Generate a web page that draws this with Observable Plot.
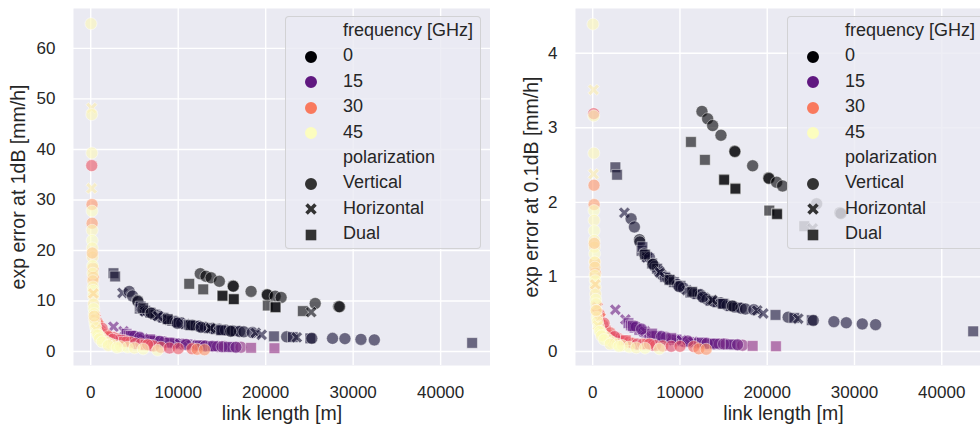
<!DOCTYPE html>
<html>
<head>
<meta charset="utf-8">
<script src="https://cdn.jsdelivr.net/npm/d3@7"></script>
<script src="https://cdn.jsdelivr.net/npm/@observablehq/plot@0.6"></script>
<style>
  html, body { margin: 0; padding: 0; background: #ffffff; }
  #wrap { position: relative; width: 980px; height: 425px; overflow: hidden; font-family: "Liberation Sans", Arial, sans-serif; color: #262626; }
  .panel { position: absolute; top: 0; }
  .legend { position: absolute; top: 16px; width: 196px; height: 233px; box-sizing: border-box;
            background: rgba(234,234,242,0.8); border: 1px solid rgba(204,204,204,0.8); border-radius: 4px;
            font-size: 18px; padding-top: 1px; }
  .legend .row { height: 25.4px; line-height: 25.4px; position: relative; white-space: nowrap; }
  .legend .row svg { position: absolute; left: 18px; top: 6.7px; }
  .legend .row span { position: absolute; left: 57px; }
</style>
</head>
<body>
<div id="wrap"></div>
<script>
// ---- data ----
// link length [m]
const linkLength = [
  // frequency ~0 GHz
  12520,13170,13750,14700,16270,16300,18330,20160,20200,21080,21760,25660,28330,28450,
  11260,12860,15040,15070,16340,16360,20240,21110,21130,24250,25200,
  // two isolated dual links
  2600,2790,
  // low-frequency curve
  3630,4400,4780,5360,5400,5600,5700,5900,6200,6230,6500,6810,7100,7380,7600,7950,8300,8600,8910,
  9300,9700,10060,10400,10800,11200,11600,12000,12350,12800,13100,13500,13900,14300,14700,15030,
  15400,15800,16200,16560,17000,17500,18460,18850,19540,20950,22400,23100,23550,25100,25270,
  27640,29060,30890,32420,43600,
  6000,6900,7700,8800,9900,11400,12600,13700,14900,16000,
  // ~15-20 GHz curve
  2600,3750,4100,4390,4800,5340,5800,6490,7000,7640,8200,8780,9300,9930,10500,11070,11600,12220,
  12800,13360,13900,14510,15270,16230,17180,18330,21000,
  5000,6000,7300,8400,9600,11500,4600,5600,6800,7900,9000,10200,10900,12500,13100,14000,15000,15800,16600,
  // ~26-34 GHz
  115,150,160,250,300,490,
  570,760,1150,1500,1910,2300,2670,3000,3440,4130,4580,5090,5730,6240,6870,7190,8020,9000,10000,
  11580,12160,13000,
  900,1300,2000,2500,3800,6500,
  // ~40-45 GHz
  30,100,120,130,100,150,160,170,180,200,220,230,250,260,280,300,320,350,380,420,480,560,700,900,
  1150,1500,1900,2290,2800,3400,4200,5000,6000,7640,
  180,300,400,600,800,1000,1300,2000,3000
];
// frequency [GHz]
const frequency = [
  0,0,0,0,0,0,0,0,0,0,0,0,0,0,
  0,0,0,0,0,0,0,0,0,0,1,
  4,4,
  5,4,4,2,3,4,5,4,5,4,5,4,5,4,5,4,5,4,5,
  4,5,4,5,4,5,4,5,4,5,4,5,4,5,4,5,
  4,5,4,5,4,4,5,4,5,5,4,5,4,5,4,
  5,5,5,5,5,
  3,3,4,3,4,3,4,3,4,3,
  16,16,15,16,15,16,15,16,15,16,15,16,16,15,16,15,16,15,
  16,15,16,17,17,16,19,19,19,
  15,16,15,16,15,16,15,15,16,15,16,15,16,15,16,15,16,15,16,
  27,33,34,36,36,27,
  27,28,26,27,28,26,27,28,26,27,28,26,27,28,26,27,28,26,27,
  28,32,33,
  29,27,28,26,27,27,
  44,43,44,44,43,45,44,45,44,43,45,44,41,44,45,44,43,45,44,43,45,44,45,44,
  45,44,45,44,45,44,45,44,45,45,
  39,40,42,43,45,44,45,44,45
];
// polarization: V = Vertical, H = Horizontal, D = Dual
const polarization = [
  "V","V","V","V","V","V","V","V","V","V","V","V","V","V",
  "D","D","D","D","D","D","D","D","D","D","H",
  "D","D",
  "H","V","V","V","V","D","D","V","D","H","V","D","V","D","H","V","D","V","H",
  "D","V","D","V","H","D","V","D","V","H","V","D","V","D","V","D",
  "V","D","V","D","V","V","V","H","H","D","V","D","H","D","V",
  "V","V","V","V","D",
  "D","V","H","D","V","D","V","H","D","V",
  "H","H","D","D","D","D","V","D","D","D","V","D","H","D","V","D","H","D",
  "V","D","V","V","V","D","V","D","D",
  "V","H","D","V","D","H","D","V","D","V","D","H","V","D","V","D","V","D","V",
  "V","V","V","V","V","H",
  "H","V","V","D","V","D","V","V","D","V","V","V","V","D","V","V","V","V","V",
  "V","V","V",
  "H","V","V","V","D","V",
  "V","H","V","V","H","V","V","V","V","V","V","V","V","V","V","V","V","V","V","V","V","V","V","V",
  "V","V","V","V","V","V","V","V","V","V",
  "V","H","V","H","V","V","V","V","V"
];
// exp error at 1dB [mm/h]
const error1dB = [
  15.4,14.9,14.6,13.9,13.0,12.9,11.9,11.3,11.2,10.95,10.7,9.5,8.9,8.85,
  13.4,12.3,11.1,11.0,10.4,10.35,9.1,8.8,8.75,8.0,7.8,
  15.5,14.85,
  11.6,11.9,11.0,10.1,9.9,8.5,8.9,8.3,8.1,7.9,7.9,7.7,7.5,7.3,7.1,6.9,6.7,6.5,6.3,
  6.1,5.9,5.8,5.6,5.45,5.3,5.2,5.1,5.0,4.85,4.75,4.65,4.55,4.45,4.4,4.3,
  4.25,4.15,4.1,4.05,3.95,3.9,3.75,3.7,3.3,3.0,2.9,2.85,2.8,2.6,2.6,
  2.6,2.55,2.4,2.3,1.7,
  8.6,7.6,7.0,6.4,5.6,5.2,4.8,4.6,4.2,4.0,
  4.9,4.0,3.5,3.2,3.0,2.7,2.5,2.3,2.15,2.05,1.9,1.8,1.65,1.5,1.45,1.4,1.3,1.2,
  1.15,1.05,1.05,1.0,1.0,0.85,0.85,0.73,0.65,
  3.0,2.6,2.1,1.9,1.6,1.3,3.1,2.8,2.4,2.0,1.75,1.55,1.4,1.2,1.1,1.05,0.95,0.9,0.85,
  36.8,29.1,25.4,16.5,14.7,7.0,
  6.5,5.8,4.2,3.5,3.2,2.9,2.7,2.5,2.3,2.0,1.85,1.6,1.5,1.3,1.2,1.1,0.85,0.7,0.6,
  0.55,0.45,0.35,
  5.2,4.6,3.0,2.4,1.9,1.35,
  64.9,48.2,46.9,39.3,32.3,27.8,24.0,22.0,20.5,18.7,17.0,15.5,14.0,12.8,12.1,11.0,9.4,8.5,7.5,6.3,5.5,4.8,3.8,3.2,
  2.8,2.2,1.8,1.5,1.2,1.0,0.85,0.7,0.5,0.25,
  19.5,11.5,7.0,4.4,3.3,2.5,1.9,1.2,0.8
];
// exp error at 0.1dB [mm/h]
const error01dB = [
  3.22,3.12,3.03,2.90,2.69,2.68,2.49,2.33,2.32,2.27,2.22,1.98,1.86,1.85,
  2.81,2.57,2.31,2.30,2.19,2.18,1.89,1.85,1.84,1.68,1.65,
  2.47,2.37,
  1.86,1.78,1.67,1.50,1.47,1.35,1.40,1.31,1.27,1.26,1.26,1.18,1.14,1.11,1.08,1.03,1.00,0.98,0.96,
  0.93,0.90,0.88,0.85,0.82,0.79,0.78,0.77,0.76,0.72,0.70,0.68,0.67,0.66,0.65,0.64,
  0.62,0.61,0.60,0.59,0.58,0.57,0.56,0.55,0.51,0.49,0.46,0.45,0.44,0.42,0.415,
  0.40,0.385,0.37,0.36,0.27,
  1.30,1.17,1.06,0.96,0.87,0.80,0.73,0.69,0.64,0.61,
  0.56,0.43,0.38,0.35,0.32,0.29,0.26,0.21,0.20,0.18,0.17,0.16,0.15,0.14,0.13,0.125,0.12,0.11,
  0.105,0.10,0.10,0.10,0.10,0.09,0.085,0.075,0.07,
  0.33,0.27,0.21,0.19,0.16,0.13,0.34,0.30,0.24,0.20,0.18,0.15,0.14,0.12,0.11,0.105,0.10,0.095,0.09,
  3.19,2.23,1.97,1.20,1.05,0.60,
  0.59,0.50,0.36,0.28,0.21,0.19,0.17,0.17,0.15,0.125,0.11,0.10,0.10,0.10,0.085,0.08,0.075,0.07,0.07,
  0.067,0.035,0.03,
  0.45,0.38,0.25,0.2,0.15,0.1,
  4.39,3.51,3.16,2.66,2.38,1.89,1.76,1.62,1.49,1.40,1.31,1.20,1.13,1.02,0.95,0.86,0.77,0.70,0.64,0.55,0.46,0.40,0.33,0.27,
  0.22,0.19,0.15,0.12,0.10,0.08,0.06,0.05,0.045,0.035,
  1.45,0.90,0.55,0.35,0.27,0.21,0.16,0.10,0.07
];
const polNames = {V: "Vertical", H: "Horizontal", D: "Dual"};
const polOrder = ["Vertical", "Horizontal", "Dual"];
const freqTicks = [0, 15, 30, 45];
const xTicks = [0, 10000, 20000, 30000, 40000];
const yTicks1 = [0, 10, 20, 30, 40, 50, 60];
const yTicks01 = [0, 1, 2, 3, 4];

const rows = linkLength.map((len, i) => ({
  len, freq: frequency[i], pol: polNames[polarization[i]], e1: error1dB[i], e01: error01dB[i]
}));

// colour: magma, mapped so that legend entries match the reference
const stopsF = [0, 15, 30, 45], stopsT = [0, 0.29, 0.72, 1];
const tOf = d3.scaleLinear().domain(stopsF).range(stopsT).clamp(true);
const colorOf = f => d3.interpolateMagma(tOf(f));

// filled "X" symbol like matplotlib's
const symbolX = {
  draw(ctx, size) {
    const r = Math.sqrt(size / Math.PI);
    const w = 0.3 * r, L = 1.05 * r;
    const pts = [[w,L],[w,w],[L,w],[L,-w],[w,-w],[w,-L],[-w,-L],[-w,-w],[-L,-w],[-L,w],[-w,w],[-w,L]];
    const c = Math.SQRT1_2;
    pts.forEach(([x, y], i) => {
      const X = (x - y) * c, Y = (x + y) * c;
      if (i === 0) ctx.moveTo(X, Y); else ctx.lineTo(X, Y);
    });
    ctx.closePath();
  }
};
const symbolRange = [d3.symbolCircle, symbolX, d3.symbolSquare];

function panel(key, yDomain, yTicks, yLabel, width, marginLeft, yLabelOffset) {
  return Plot.plot({
    width, height: 425,
    marginLeft, marginRight: 0, marginTop: 8, marginBottom: 60,
    style: {background: "transparent", fontFamily: "'Liberation Sans', Arial, sans-serif", fontSize: "17px", color: "#262626"},
    x: {domain: [-1970, 45700]},
    y: {domain: yDomain},
    color: {type: "linear", domain: [0, 45], interpolate: t => colorOf(t * 45)},
    symbol: {domain: polOrder, range: symbolRange},
    marks: [
      Plot.frame({fill: "#EAEAF2", stroke: null}),
      Plot.gridX(xTicks, {stroke: "#ffffff", strokeOpacity: 1, strokeWidth: 1.4}),
      Plot.gridY(yTicks, {stroke: "#ffffff", strokeOpacity: 1, strokeWidth: 1.4}),
      Plot.axisX(xTicks, {tickSize: 0, tickPadding: 20, tickFormat: d3.format("d"), label: null, fontSize: 17}),
      Plot.axisX({ticks: [], tickSize: 0, label: "link length [m]", labelAnchor: "center", labelArrow: false, labelOffset: 54, fontSize: 19.5}),
      Plot.axisY(yTicks, {tickSize: 0, tickPadding: 18, tickFormat: d3.format("d"), label: null, fontSize: 17}),
      Plot.axisY({ticks: [], tickSize: 0, label: yLabel, labelAnchor: "center", labelArrow: false, labelOffset: yLabelOffset, fontSize: 19.5}),
      Plot.dot(rows, {x: "len", y: key, fill: "freq", symbol: "pol", r: 6,
        stroke: "#ffffff", strokeWidth: 0.75, fillOpacity: 0.6, strokeOpacity: 0.6})
    ]
  });
}

function legend(left) {
  const el = document.createElement("div");
  el.className = "legend";
  el.style.left = left + "px";
  const mk = (shape, fill) => {
    const s = d3.create("svg").attr("width", 14).attr("height", 14).attr("viewBox", "-7 -7 14 14");
    s.append("path").attr("d", d3.symbol(shape, 113)()).attr("fill", fill);
    return s.node();
  };
  const add = (text, node) => {
    const r = document.createElement("div");
    r.className = "row";
    if (node) r.appendChild(node);
    const sp = document.createElement("span");
    sp.textContent = text;
    r.appendChild(sp);
    el.appendChild(r);
  };
  add("frequency [GHz]");
  freqTicks.forEach(f => add(String(f), mk(d3.symbolCircle, colorOf(f))));
  add("polarization");
  polOrder.forEach((p, i) => add(p, mk(symbolRange[i], "#333333")));
  return el;
}

const wrap = document.getElementById("wrap");
const p1 = panel("e1", [-2.77, 67.9], yTicks1, "exp error at 1dB [mm/h]", 490, 73, 62);
p1.classList.add("panel"); p1.style.left = "0px";
const p2 = panel("e01", [-0.188, 4.6], yTicks01, "exp error at 0.1dB [mm/h]", 501, 85, 51);
p2.classList.add("panel"); p2.style.left = "490px";
wrap.appendChild(p1);
wrap.appendChild(p2);
wrap.appendChild(legend(285));
wrap.appendChild(legend(787));
</script>
</body>
</html>
